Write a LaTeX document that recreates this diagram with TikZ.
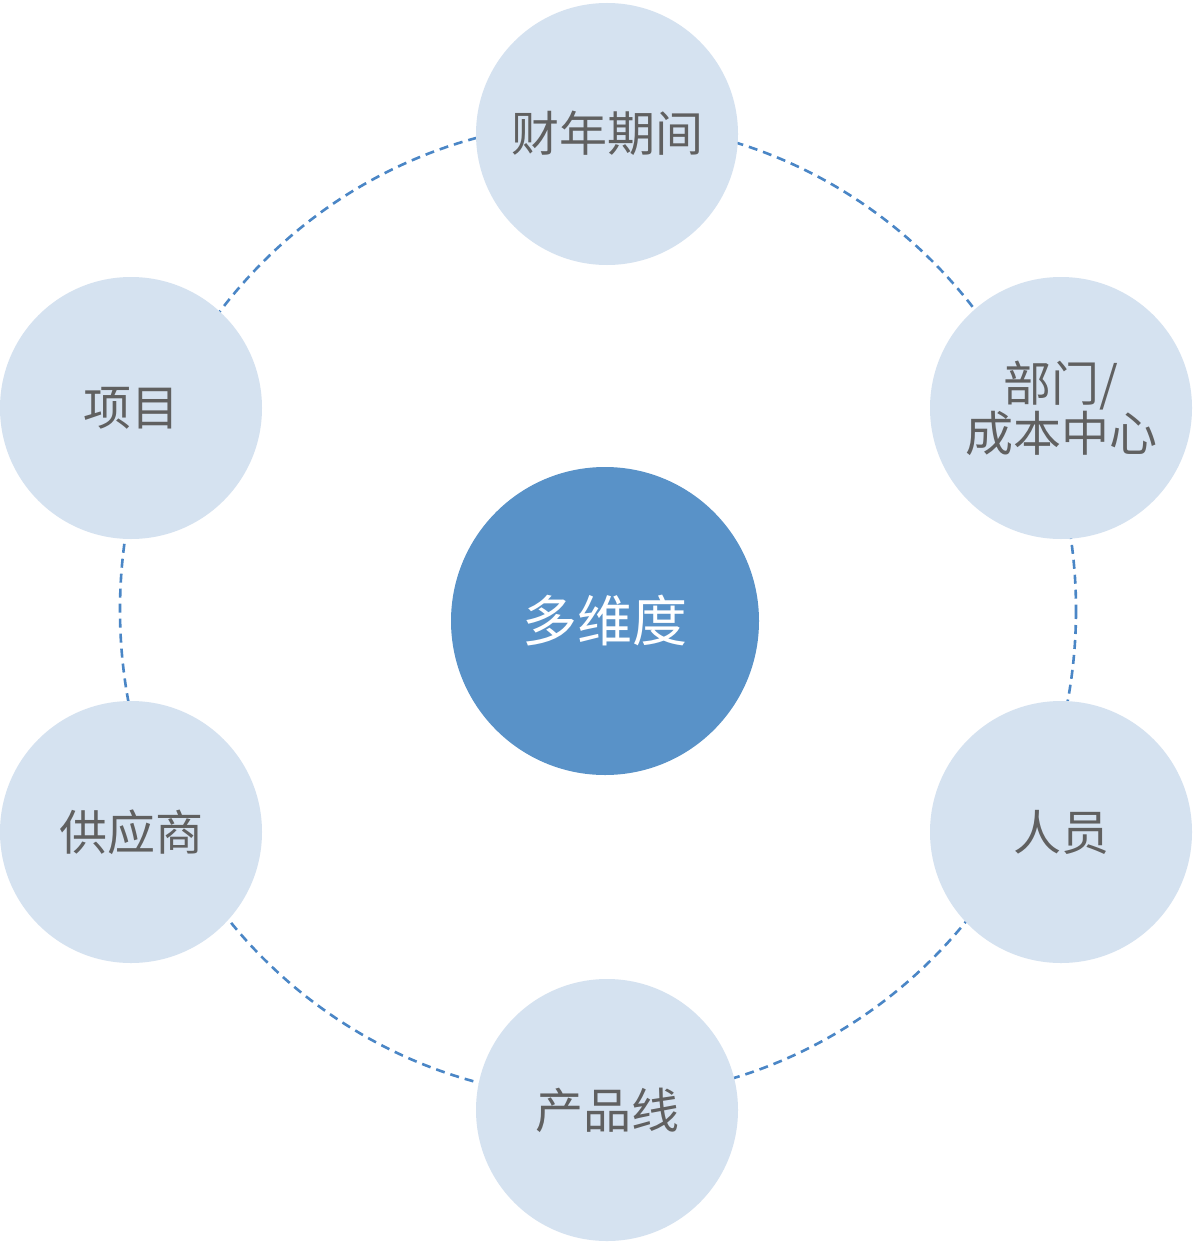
\documentclass[tikz,border=0pt]{standalone}
\usepackage{fontspec}
\newfontfamily\cjk{Noto Sans CJK SC}
\definecolor{lightdim}{RGB}{213,226,240}
\definecolor{hubblue}{RGB}{89,146,200}
\definecolor{ringblue}{RGB}{74,134,198}
\definecolor{labelgray}{RGB}{96,96,96}
\begin{document}
\begin{tikzpicture}[x=1pt,y=-1pt,
  dim/.style={circle,fill=lightdim,minimum size=262pt,inner sep=0pt,
    font=\cjk\fontsize{48}{50}\selectfont,text=labelgray,align=center},
  hub/.style={circle,fill=hubblue,minimum size=308pt,inner sep=0pt,
    font=\cjk\fontsize{55}{60}\selectfont,text=white},
  ring/.style={draw=ringblue,line width=2.6pt,dash pattern=on 9pt off 6pt}]
\useasboundingbox (0,0) rectangle (1192,1244);
\fill[white] (0,0) rectangle (1192,1244);
\draw[ring] (598,610) ellipse [x radius=478, y radius=488];
\node[hub] (center) at (605,621) {多维度};
\node[dim] (fy) at (607,134) {\raisebox{5pt}{财年期间}};
\node[dim] (dept) at (1061,408) {部门/\\成本中心};
\node[dim] (staff) at (1061,832) {人员};
\node[dim] (prod) at (607,1110) {产品线};
\node[dim] (supp) at (131,832) {供应商};
\node[dim] (proj) at (131,408) {项目};
\end{tikzpicture}
\end{document}
